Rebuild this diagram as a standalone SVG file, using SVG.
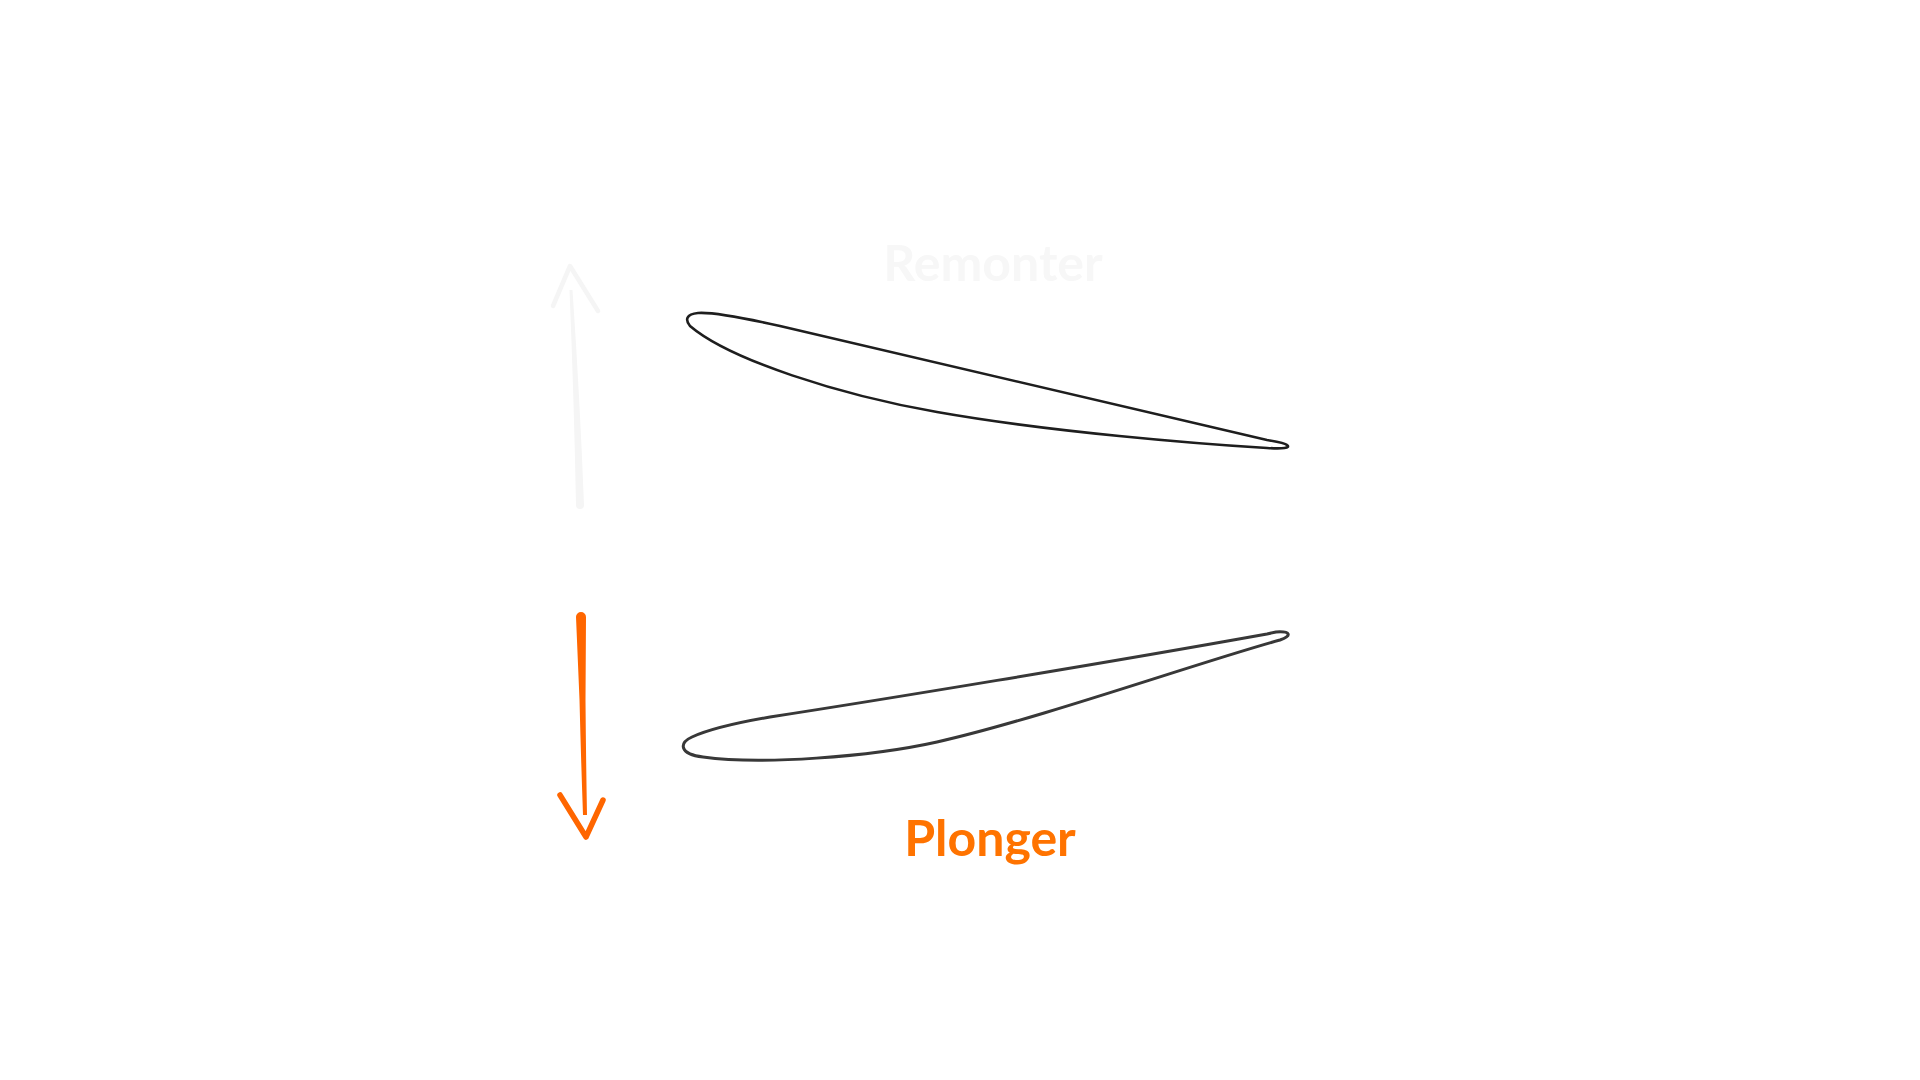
<svg xmlns="http://www.w3.org/2000/svg" width="1920" height="1080" viewBox="0 0 1920 1080">
<style>
.foil{fill:none;stroke-linejoin:round;stroke-linecap:round}
.lbl{font-family:Lato,"Open Sans","Liberation Sans",sans-serif;font-weight:700;font-size:50px;text-anchor:middle}
.head{fill:none;stroke-linecap:round;stroke-linejoin:round}
</style>
<rect width="1920" height="1080" fill="#ffffff"/>
<g id="foil-up">
<path class="foil" stroke="#1e1e1e" stroke-width="2.6" d="M 690,326 C 730,360 840,395 937,412 C 1050,432 1200,444 1267,448 C 1283,449 1291,448 1287,445 C 1285,443 1280,442 1267,440 L 780,326 C 740,317 712,312 698,313 C 686,314 685,320 690,326 Z"/>
</g>
<g id="foil-down">
<path class="foil" stroke="#383838" stroke-width="3" d="M 1267,634 C 1100,664 880,700 770,717 C 735,723 705,731 692,737 C 679,743 679,754 703,757 C 760,765 870,757 937,742 C 1037,719.5 1200,662 1280,640 C 1292,636 1291,631 1276,632 L 1267,634 Z"/>
</g>
<g id="connectors">
<g id="arrow-up">
<path fill="#f5f5f5" d="M 569.5,290 Q 574,400 576,505 A 4 4 0 0 0 584,505 Q 580,400 572.5,290 Z"/>
<polyline class="head" stroke="#f5f5f5" stroke-width="4.5" points="553,306 570,266 598,311"/>
</g>
<g id="arrow-down">
<path fill="#ff6600" d="M 576,617 A 5 5 0 0 1 586,617 L 585.5,700 Q 586,760 587,815 L 583,815 Q 581,760 579.5,700 Z"/>
<polyline class="head" stroke="#ff6600" stroke-width="5.5" points="560,795 586,837 603,800"/>
</g>
</g>
<g id="label-remonter">
<text class="lbl" x="993" y="281" fill="#f7f7f7">Remonter</text>
</g>
<g id="label-plonger">
<text class="lbl" x="990" y="856" fill="#ff7300">Plonger</text>
</g>
</svg>
